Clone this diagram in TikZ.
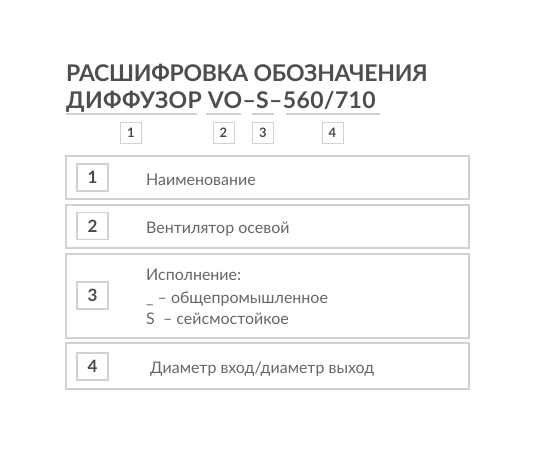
\documentclass[tikz,border=0pt]{standalone}
\usepackage{fontspec}
\setmainfont{Lato}
\definecolor{titlegray}{HTML}{4E4E4E}
\definecolor{textgray}{HTML}{666666}
\definecolor{numgray}{HTML}{4A4A4A}
\definecolor{linegray}{HTML}{D2D2D2}
\definecolor{ulgray}{HTML}{CFCFCF}
\tikzset{
  titletxt/.style={anchor=base west, inner sep=0pt, text=titlegray, font=\fontsize{23}{23}\selectfont\bfseries},
  ulline/.style={draw=ulgray, line width=1.8pt},
  smallbox/.style={draw=linegray, line width=1pt, minimum width=21pt, minimum height=21pt, inner sep=0pt, text height=9.3pt, text depth=0pt, text=numgray, font=\fontsize{13}{13}\selectfont\bfseries},
  bigbox/.style={draw=linegray, line width=1.2pt, minimum width=403pt, inner sep=0pt},
  numbox/.style={draw=linegray, line width=1.2pt, minimum width=31pt, minimum height=27pt, inner sep=0pt, text height=12.2pt, text depth=0pt, text=numgray, font=\fontsize{17}{17}\selectfont\bfseries},
  desc/.style={anchor=base west, inner sep=0pt, text=textgray, font=\fontsize{16}{16}\selectfont}
}
\begin{document}
\begin{tikzpicture}[x=1pt,y=-1pt]
\useasboundingbox (0,0) rectangle (550,450);
% title
\node[titletxt] (t1) at (66,81.5) {\addfontfeature{LetterSpace=-1.2}РАСШИФРОВКА ОБОЗНАЧЕНИЯ};
\node[titletxt] (t2) at (66,108.5) {\addfontfeature{LetterSpace=1.5}ДИФФУЗОР VO–S–560/710};
% underlines
\draw[ulline] (66,114) -- (197,114);
\draw[ulline] (206,114) -- (241,114);
\draw[ulline] (252,114) -- (274,114);
\draw[ulline] (286,114) -- (380,114);
% small boxes
\node[smallbox] (s1) at (131,132.5) {1};
\node[smallbox] (s2) at (223.5,132.5) {2};
\node[smallbox] (s3) at (263,132.5) {3};
\node[smallbox] (s4) at (332.5,132.5) {4};
% big boxes
\node[bigbox, minimum height=43pt] (b1) at (267.5,177.5) {};
\node[bigbox, minimum height=43pt] (b2) at (267.5,226.5) {};
\node[bigbox, minimum height=84pt] (b3) at (267.5,296) {};
\node[bigbox, minimum height=46pt] (b4) at (267.5,366) {};
% number boxes
\node[numbox] (n1) at (92.5,177.5) {1};
\node[numbox] (n2) at (92.5,226) {2};
\node[numbox] (n3) at (92.5,295.5) {3};
\node[numbox] (n4) at (92.5,366.5) {4};
% descriptions
\node[desc] (d1) at (146,185) {Наименование};
\node[desc] (d2) at (146,233) {Вентилятор осевой};
\node[desc] (d3a) at (146,280) {Исполнение:};
\node[desc] (d3b) at (146,303) {\_ – общепромышленное};
\node[desc] (d3c) at (146,324.5) {S\ \ – сейсмостойкое};
\node[desc] (d4) at (150,373) {Диаметр вход/диаметр выход};
\end{tikzpicture}
\end{document}
